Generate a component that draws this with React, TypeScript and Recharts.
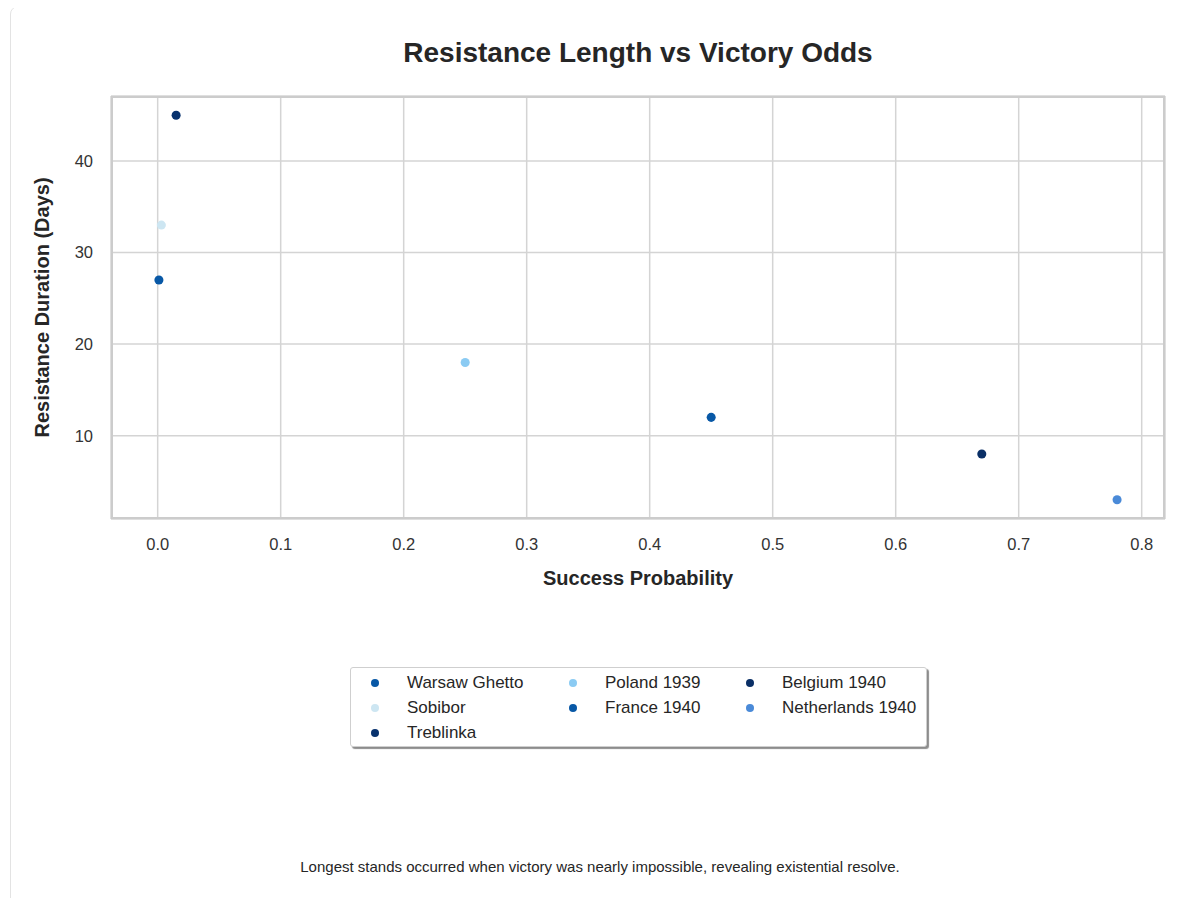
import React from 'react';
import {
  ScatterChart,
  Scatter,
  XAxis,
  YAxis,
  ZAxis,
  CartesianGrid,
  Cell,
  Label
} from 'recharts';

const places = [
  'Warsaw Ghetto',
  'Sobibor',
  'Treblinka',
  'Poland 1939',
  'France 1940',
  'Belgium 1940',
  'Netherlands 1940'
];
const successProbability = [0.001, 0.003, 0.015, 0.25, 0.45, 0.67, 0.78];
const durationDays = [27, 33, 45, 18, 12, 8, 3];
const pointColors = ['#0858a6', '#cde6f2', '#08326e', '#8bcbf3', '#0858a6', '#0a2f66', '#4a8ad8'];

const xTicks = [0, 0.1, 0.2, 0.3, 0.4, 0.5, 0.6, 0.7, 0.8];
const yTicks = [10, 20, 30, 40];
const legendColumns = [3, 2, 2];

const FONT = '"Liberation Sans", Arial, Helvetica, sans-serif';

const data = places.map((name, i) => ({
  name,
  x: successProbability[i],
  y: durationDays[i],
  color: pointColors[i]
}));

// matplotlib-style 5% margins around the data
const pad = (vals: number[]) => {
  const min = Math.min(...vals);
  const max = Math.max(...vals);
  const m = (max - min) * 0.05;
  return [min - m, max + m];
};

const LegendBox: React.FC = () => {
  let start = 0;
  const cols = legendColumns.map((n) => {
    const items = data.slice(start, start + n);
    start += n;
    return items;
  });
  const colWidths = [198, 177, 160];
  return (
    <div
      style={{
        position: 'absolute',
        left: 350,
        top: 667,
        width: 577,
        height: 80,
        background: '#fff',
        border: '1px solid #cfcfcf',
        borderRadius: 3,
        boxShadow: '2px 2px 1px rgba(0,0,0,0.45)',
        boxSizing: 'border-box',
        display: 'flex',
        padding: '2px 0 0 20px',
        fontFamily: FONT,
        fontSize: 17,
        color: '#262626'
      }}
    >
      {cols.map((items, ci) => (
        <div key={ci} style={{ width: colWidths[ci], flexShrink: 0 }}>
          {items.map((d) => (
            <div key={d.name} style={{ display: 'flex', alignItems: 'center', height: 25, whiteSpace: 'nowrap' }}>
              <span
                style={{
                  width: 8,
                  height: 8,
                  borderRadius: '50%',
                  background: d.color,
                  display: 'inline-block',
                  marginRight: 28,
                  flexShrink: 0
                }}
              />
              <span>{d.name}</span>
            </div>
          ))}
        </div>
      ))}
    </div>
  );
};

const App: React.FC = () => {
  return (
    <div style={{ position: 'relative', width: 1184, height: 906, margin: -8, overflow: 'hidden', background: '#fff' }}>
      <div
        style={{
          position: 'absolute',
          left: 10,
          top: 6,
          width: 1180,
          height: 920,
          border: '1px solid #e3e3e3',
          borderRadius: 8,
          boxSizing: 'border-box'
        }}
      />
      <div
        style={{
          position: 'absolute',
          left: 111,
          width: 1054,
          top: 37,
          textAlign: 'center',
          fontFamily: FONT,
          fontWeight: 'bold',
          fontSize: 28,
          color: '#262626'
        }}
      >
        Resistance Length vs Victory Odds
      </div>
      <div style={{ position: 'absolute', left: 0, top: 0 }}>
        <ScatterChart width={1184} height={600} margin={{ top: 96, right: 19, bottom: 11, left: 51 }}>
          <CartesianGrid stroke="#d4d4d4" strokeWidth={1.5} />
          <XAxis
            type="number"
            dataKey="x"
            domain={pad(successProbability)}
            ticks={xTicks}
            tickFormatter={(v: number) => v.toFixed(1)}
            tickLine={false}
            axisLine={false}
            tickMargin={13}
            height={70}
            tick={{ fill: '#333', fontSize: 16.5, fontFamily: FONT }}
            allowDataOverflow
          >
            <Label
              value="Success Probability"
              position="insideBottom"
              offset={4}
              style={{ fontFamily: FONT, fontWeight: 'bold', fontSize: 20, fill: '#262626' }}
            />
          </XAxis>
          <YAxis
            type="number"
            dataKey="y"
            domain={pad(durationDays)}
            ticks={yTicks}
            tickLine={false}
            axisLine={false}
            tickMargin={12}
            width={60}
            tick={{ fill: '#333', fontSize: 16.5, fontFamily: FONT }}
            allowDataOverflow
          >
            <Label
              value="Resistance Duration (Days)"
              angle={-90}
              position="insideLeft"
              offset={-9}
              style={{ fontFamily: FONT, fontWeight: 'bold', fontSize: 20, fill: '#262626', textAnchor: 'middle' }}
            />
          </YAxis>
          <ZAxis range={[64, 64]} />
          <Scatter data={data} isAnimationActive={false}>
            {data.map((d, i) => (
              <Cell key={`pt-${i}`} fill={d.color} />
            ))}
          </Scatter>
        </ScatterChart>
      </div>
      <div
        style={{
          position: 'absolute',
          left: 111,
          top: 96,
          width: 1054,
          height: 423,
          border: '2px solid #cccccc',
          boxSizing: 'border-box',
          pointerEvents: 'none'
        }}
      />
      <LegendBox />
      <div
        style={{
          position: 'absolute',
          left: 10,
          width: 1180,
          top: 858,
          textAlign: 'center',
          fontFamily: FONT,
          fontSize: 15,
          color: '#262626'
        }}
      >
        Longest stands occurred when victory was nearly impossible, revealing existential resolve.
      </div>
    </div>
  );
};

export default App;
